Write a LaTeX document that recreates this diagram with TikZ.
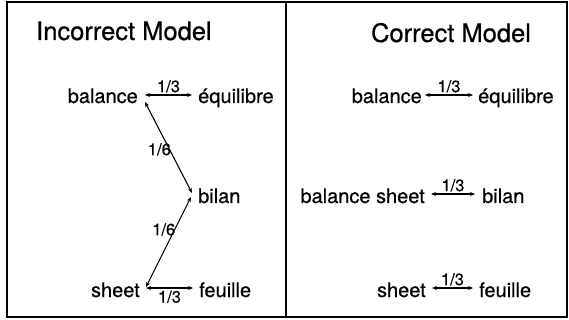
\documentclass[tikz,border=0pt]{standalone}
\usepackage{fontspec}
\setmainfont[FakeBold=0.6]{TeX Gyre Heros}
\usetikzlibrary{arrows.meta}
\begin{document}
\begin{tikzpicture}[x=1pt,y=-1pt,
  frame/.style={line width=1.2pt},
  ttl/.style={inner sep=0pt,font=\fontsize{25.5}{27}\selectfont},
  wrd/.style={inner sep=0pt,font=\fontsize{20}{22}\selectfont},
  lbl/.style={inner sep=1pt,font=\fontsize{16.5}{18}\selectfont},
  link/.style={line width=1.1pt,{Stealth[length=5pt,width=4pt]}-{Stealth[length=5pt,width=4pt]}}]
\useasboundingbox (0,0) rectangle (569,320);
\draw[frame] (7,2) rectangle (567,317);
\draw[frame] (286,2) -- (286,317);
% Incorrect model
\node[ttl,anchor=base west] (t1) at (36,40) {Incorrect Model};
\node[wrd,anchor=base east] (b1) at (138,103) {balance};
\node[wrd,anchor=base west] (e1) at (198,103) {équilibre};
\node[wrd,anchor=base west] (bi1) at (198,203) {bilan};
\node[wrd,anchor=base east] (s1) at (140,297) {sheet};
\node[wrd,anchor=base west] (f1) at (199,297) {feuille};
\draw[link] ([shift={(7,-8)}]b1.base east) -- node[lbl,midway,above=1pt] {1/3} ([shift={(-6,-8)}]e1.base west);
\draw[link] ([shift={(7,-1)}]b1.base east) -- node[lbl,pos=0.52,left=-3pt] {1/6} ([shift={(-6,-10)}]bi1.base west);
\draw[link] ([shift={(-7,-6)}]bi1.base west) -- node[lbl,pos=0.36,left=-2pt] {1/6} ([shift={(6,-10)}]s1.base east);
\draw[link] ([shift={(6,-9)}]s1.base east) -- node[lbl,midway,below=1pt] {1/3} ([shift={(-6,-9)}]f1.base west);
% Correct model
\node[ttl,anchor=base] (t2) at (451,42) {Correct Model};
\node[wrd,anchor=base east] (b2) at (422,103) {balance};
\node[wrd,anchor=base west] (e2) at (478,103) {équilibre};
\node[wrd,anchor=base east] (bs2) at (425,203) {balance sheet};
\node[wrd,anchor=base west] (bi2) at (482,203) {bilan};
\node[wrd,anchor=base east] (s2) at (426,297) {sheet};
\node[wrd,anchor=base west] (f2) at (479,297) {feuille};
\draw[link] ([shift={(3,-8)}]b2.base east) -- node[lbl,midway,above=1pt] {1/3} ([shift={(-5,-8)}]e2.base west);
\draw[link] ([shift={(6,-9)}]bs2.base east) -- node[lbl,midway,above=1pt] {1/3} ([shift={(-7,-9)}]bi2.base west);
\draw[link] ([shift={(6,-9)}]s2.base east) -- node[lbl,midway,above=1pt] {1/3} ([shift={(-6,-9)}]f2.base west);
\end{tikzpicture}
\end{document}
